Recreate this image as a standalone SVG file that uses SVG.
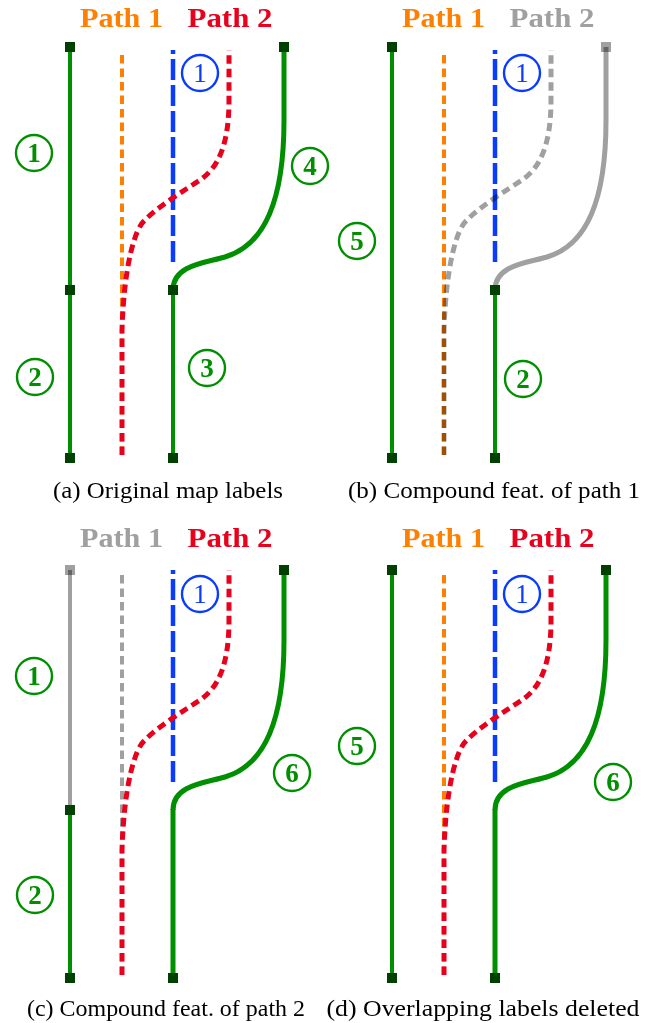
<svg xmlns="http://www.w3.org/2000/svg" width="652" height="1023" viewBox="0 0 652 1023">
<style>
.bg{fill:#ffffff}
.g{stroke:#008f00;stroke-width:4;fill:none}
.gc{stroke:#008f00;stroke-width:5;fill:none}
.sq{fill:#004000}
.or{stroke:#ff8000;stroke-width:4;stroke-dasharray:8.5 5;fill:none}
.rd{stroke:#e8001c;stroke-width:5;stroke-dasharray:8.5 5;fill:none}
.bl{stroke:#0a3cff;stroke-width:4.5;stroke-dasharray:21 5;fill:none}
.gy{stroke:#a0a0a0;mix-blend-mode:multiply}
.gysq{fill:#a0a0a0;mix-blend-mode:multiply}
.lg circle{fill:none;stroke:#008f00;stroke-width:2.4}
.lg text{fill:#008f00;font-family:"Liberation Serif",serif;font-weight:bold;font-size:27px;text-anchor:middle}
.lb circle{fill:none;stroke:#0a3cff;stroke-width:2.4}
.lb text{fill:#0a3cff;font-family:"Liberation Serif",serif;font-size:27px;text-anchor:middle}
.hd{font-family:"Liberation Serif",serif;font-weight:bold;font-size:28px;text-anchor:middle}
.cap{font-family:"Liberation Serif",serif;font-size:23px;fill:#000;text-anchor:middle}
</style>
<defs>
<path id="p2" d="M122,455 L122,330 C124,265 135,228 145,220 C160,205 185,190 200,180 C218,168 229,145 229,100 L229,50"/>
<path id="p1" d="M122,455 V50"/>
<path id="bl" d="M173,262 V50"/>
<path id="rc" d="M284,47 L284,120 C284,200 265,245 225,257 C205,263 173,265 173,290"/>
</defs>
<rect class="bg" x="0" y="0" width="652" height="1023"/>

<!-- Panel (a) -->
<g id="panel-a">
  <text class="hd" x="121.5" y="27" fill="#ff8000" textLength="83" lengthAdjust="spacingAndGlyphs">Path 1</text>
  <text class="hd" x="230" y="27" fill="#e8001c" textLength="85" lengthAdjust="spacingAndGlyphs">Path 2</text>
  <g id="a-edges">
    <line class="g" x1="70" y1="47" x2="70" y2="458"/>
    <use href="#p1" class="or"/>
    <use href="#bl" class="bl"/>
    <use href="#p2" class="rd"/>
    <use href="#rc" class="gc"/>
    <line class="g" x1="173" y1="290" x2="173" y2="458"/>
  </g>
  <g id="a-nodes">
    <rect class="sq" x="65" y="42" width="10" height="10"/>
    <rect class="sq" x="65" y="285" width="10" height="10"/>
    <rect class="sq" x="65" y="453" width="10" height="10"/>
    <rect class="sq" x="279" y="42" width="10" height="10"/>
    <rect class="sq" x="168" y="285" width="10" height="10"/>
    <rect class="sq" x="168" y="453" width="10" height="10"/>
  </g>
  <g id="a-l1" class="lg"><circle cx="34" cy="153" r="18"/><text x="34" y="162">1</text></g>
  <g id="a-l2" class="lg"><circle cx="35" cy="377" r="18"/><text x="35" y="386">2</text></g>
  <g id="a-l3" class="lg"><circle cx="207" cy="368" r="18"/><text x="207" y="377">3</text></g>
  <g id="a-l4" class="lg"><circle cx="310" cy="166" r="18"/><text x="310" y="175">4</text></g>
  <g id="a-lb1" class="lb"><circle cx="200" cy="73" r="18"/><text x="200" y="82">1</text></g>
  <text class="cap" x="168" y="498" textLength="230" lengthAdjust="spacingAndGlyphs">(a) Original map labels</text>
</g>

<!-- Panel (b) -->
<g id="panel-b">
  <g transform="translate(322,0)">
    <text class="hd" x="121.5" y="27" fill="#ff8000" textLength="83" lengthAdjust="spacingAndGlyphs">Path 1</text>
    <text class="hd" x="230" y="27" fill="#a0a0a0" textLength="85" lengthAdjust="spacingAndGlyphs">Path 2</text>
    <g id="b-edges">
      <line class="g" x1="70" y1="47" x2="70" y2="458"/>
      <use href="#p1" class="or"/>
      <use href="#bl" class="bl"/>
      <use href="#p2" class="rd gy"/>
      <rect class="gysq" x="279" y="42" width="10" height="10"/>
      <use href="#rc" class="gc gy"/>
      <line class="g" x1="173" y1="290" x2="173" y2="458"/>
    </g>
    <g id="b-nodes">
      <rect class="sq" x="65" y="42" width="10" height="10"/>
      <rect class="sq" x="65" y="453" width="10" height="10"/>
      <rect class="sq" x="168" y="285" width="10" height="10"/>
      <rect class="sq" x="168" y="453" width="10" height="10"/>
    </g>
    <g id="b-l5" class="lg"><circle cx="35" cy="241" r="18"/><text x="35" y="250">5</text></g>
    <g id="b-l2" class="lg"><circle cx="201" cy="379" r="18"/><text x="201" y="388">2</text></g>
    <g id="b-lb1" class="lb"><circle cx="200" cy="73" r="18"/><text x="200" y="82">1</text></g>
  </g>
  <text class="cap" x="494" y="498" textLength="292" lengthAdjust="spacingAndGlyphs">(b) Compound feat. of path 1</text>
</g>

<!-- Panel (c) -->
<g id="panel-c">
  <g transform="translate(0,520)">
    <text class="hd" x="121.5" y="27" fill="#a0a0a0" textLength="83" lengthAdjust="spacingAndGlyphs">Path 1</text>
    <text class="hd" x="230" y="27" fill="#e8001c" textLength="85" lengthAdjust="spacingAndGlyphs">Path 2</text>
    <g id="c-edges">
      <rect class="gysq" x="65" y="45" width="10" height="10"/>
      <line class="g gy" x1="70" y1="50" x2="70" y2="290"/>
      <line class="g" x1="70" y1="290" x2="70" y2="458"/>
      <use href="#p1" class="or gy"/>
      <use href="#bl" class="bl"/>
      <use href="#p2" class="rd"/>
      <use href="#rc" class="gc"/>
      <line class="gc" x1="173" y1="289" x2="173" y2="458"/>
    </g>
    <g id="c-nodes">
      <rect class="sq" x="65" y="285" width="10" height="10"/>
      <rect class="sq" x="65" y="453" width="10" height="10"/>
      <rect class="sq" x="279" y="45" width="10" height="10"/>
      <rect class="sq" x="168" y="453" width="10" height="10"/>
    </g>
    <g id="c-l1" class="lg"><circle cx="34" cy="156" r="18"/><text x="34" y="165">1</text></g>
    <g id="c-l2" class="lg"><circle cx="35" cy="375" r="18"/><text x="35" y="384">2</text></g>
    <g id="c-l6" class="lg"><circle cx="292" cy="253" r="18"/><text x="292" y="262">6</text></g>
    <g id="c-lb1" class="lb"><circle cx="200" cy="74" r="18"/><text x="200" y="83">1</text></g>
  </g>
  <text class="cap" x="166" y="1016" textLength="278" lengthAdjust="spacingAndGlyphs">(c) Compound feat. of path 2</text>
</g>

<!-- Panel (d) -->
<g id="panel-d">
  <g transform="translate(322,520)">
    <text class="hd" x="121.5" y="27" fill="#ff8000" textLength="83" lengthAdjust="spacingAndGlyphs">Path 1</text>
    <text class="hd" x="230" y="27" fill="#e8001c" textLength="85" lengthAdjust="spacingAndGlyphs">Path 2</text>
    <g id="d-edges">
      <line class="g" x1="70" y1="47" x2="70" y2="458"/>
      <use href="#p1" class="or"/>
      <use href="#bl" class="bl"/>
      <use href="#p2" class="rd"/>
      <use href="#rc" class="gc"/>
      <line class="gc" x1="173" y1="289" x2="173" y2="458"/>
    </g>
    <g id="d-nodes">
      <rect class="sq" x="65" y="45" width="10" height="10"/>
      <rect class="sq" x="65" y="453" width="10" height="10"/>
      <rect class="sq" x="279" y="45" width="10" height="10"/>
      <rect class="sq" x="168" y="453" width="10" height="10"/>
    </g>
    <g id="d-l5" class="lg"><circle cx="35" cy="226" r="18"/><text x="35" y="235">5</text></g>
    <g id="d-l6" class="lg"><circle cx="291" cy="262" r="18"/><text x="291" y="271">6</text></g>
    <g id="d-lb1" class="lb"><circle cx="200" cy="74" r="18"/><text x="200" y="83">1</text></g>
  </g>
  <text class="cap" x="483" y="1016" textLength="313" lengthAdjust="spacingAndGlyphs">(d) Overlapping labels deleted</text>
</g>
</svg>
